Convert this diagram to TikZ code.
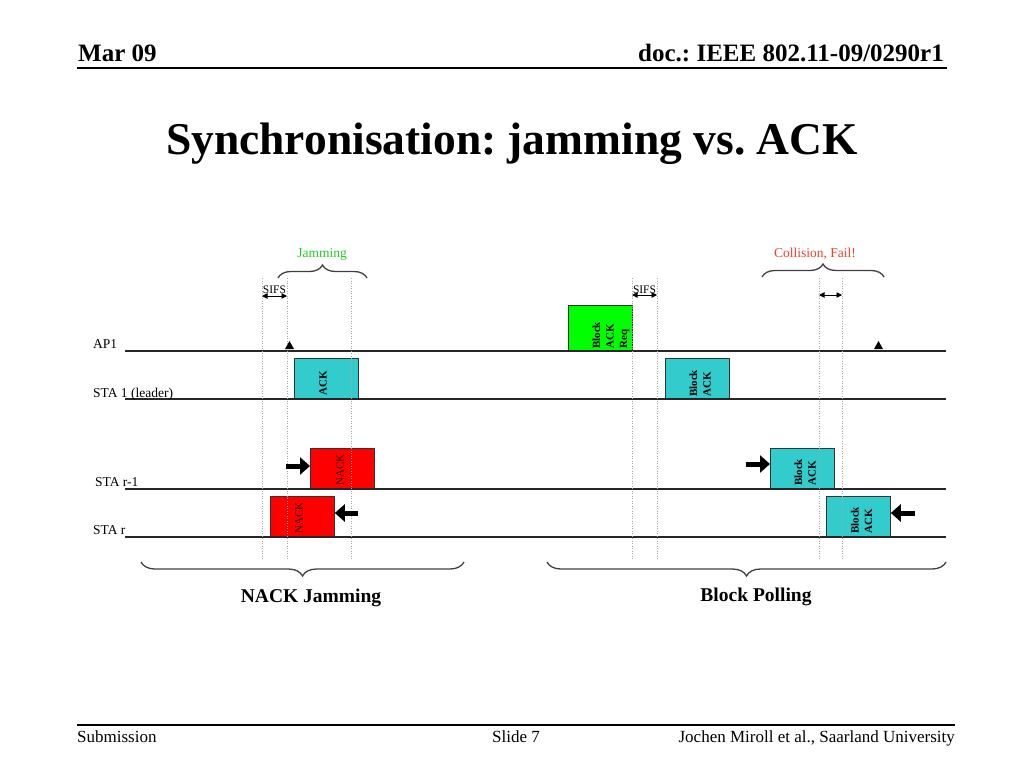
\documentclass[tikz,border=0pt]{standalone}
\usepackage{fontspec}
\setmainfont{Liberation Serif}
\usetikzlibrary{arrows.meta,decorations.pathreplacing}
\definecolor{boxgreen}{RGB}{0,255,0}
\definecolor{boxcyan}{RGB}{51,204,204}
\definecolor{boxred}{RGB}{255,0,0}
\definecolor{jamgreen}{RGB}{40,200,40}
\definecolor{failred}{RGB}{235,65,45}
\frenchspacing
\begin{document}
\begin{tikzpicture}[x=1pt,y=-1pt,
  timeline/.style={line width=1.5pt, black!85},
  vgrid/.style={gray!70, line width=0.7pt, dash pattern=on 1pt off 1.5pt},
  frame/.style={draw=black!80, line width=0.8pt, minimum width=64pt, minimum height=41pt, inner sep=0, anchor=north west},
  boxtext/.style={rotate=90, font=\bfseries\fontsize{11}{13.5}\selectfont, align=left, inner sep=0, anchor=west},
  nacktext/.style={rotate=90, font=\fontsize{11}{13.5}\selectfont, text=black!85!red, inner sep=0, anchor=west},
  bigarrow/.style={line width=5pt, -{Triangle[length=10pt,width=17pt]}},
  sifs/.style={line width=0.9pt, {Triangle[length=5.5pt,width=5.5pt]}-{Triangle[length=5.5pt,width=5.5pt]}},
  bracestyle/.style={decorate, decoration={brace, amplitude=#1}, line width=1.3pt, black!75},
  lbl/.style={font=\fontsize{13.5}{16}\selectfont, anchor=base west, inner sep=0},
  small/.style={font=\fontsize{11.5}{13}\selectfont, anchor=base, inner sep=0},
  note/.style={font=\fontsize{13.5}{16}\selectfont, anchor=base, inner sep=0},
  caption/.style={font=\bfseries\fontsize{19.5}{22}\selectfont, anchor=base, inner sep=0},
  foot/.style={font=\fontsize{17}{20}\selectfont, inner sep=0}
]
\useasboundingbox (0,0) rectangle (1024,768);

% header
\node[font=\bfseries\fontsize{25}{28}\selectfont, anchor=base west, inner sep=0] (date) at (78,62) {Mar 09};
\node[font=\bfseries\fontsize{25}{28}\selectfont, anchor=base east, inner sep=0] (doc) at (944,62) {doc.: IEEE 802.11-09/0290r1};
\coordinate (hl) at (77,68); \coordinate (hr) at (947,68);
\draw[line width=1.5pt] (hl) -- (hr);
\node[font=\bfseries\fontsize{45.5}{50}\selectfont, anchor=base, inner sep=0] (title) at (512,154) {Synchronisation: jamming vs. ACK};

% footer
\coordinate (fl) at (77,725); \coordinate (fr) at (955,725);
\draw[line width=1.2pt] (fl) -- (fr);
\node[foot, anchor=base west] (sub) at (77,742) {Submission};
\node[foot, anchor=base west] (slide) at (492,742) {Slide 7};
\node[foot, anchor=base east] (auth) at (955,742) {Jochen Miroll et al., Saarland University};

% boxes
\node[frame, fill=boxgreen, minimum height=46pt] (bar) at (568,305) {};
\node[frame, fill=boxcyan] (ack) at (294,358) {};
\node[frame, fill=boxred] (nackA) at (310,448) {};
\node[frame, fill=boxred] (nackB) at (270,496) {};
\node[frame, fill=boxcyan] (backS) at (665,358) {};
\node[frame, fill=boxcyan] (backA) at (770,448) {};
\node[frame, fill=boxcyan] (backB) at (826,496) {};

\node[boxtext] (tbar) at (611,349) {Block\\ACK\\Req};
\node[boxtext] (tack) at (323,396) {ACK};
\node[nacktext] (tnA) at (340,486) {NACK};
\node[nacktext] (tnB) at (299,534) {NACK};
\node[boxtext] (tbS) at (700,397) {Block\\ACK};
\node[boxtext] (tbA) at (805,486) {Block\\ACK};
\node[boxtext] (tbB) at (861.5,534) {Block\\ACK};

% timelines
\coordinate (ap-s) at (125,351); \coordinate (ap-e) at (946,351);
\coordinate (s1-s) at (125,399); \coordinate (s1-e) at (946,399);
\coordinate (sa-s) at (125,489); \coordinate (sa-e) at (946,489);
\coordinate (sb-s) at (125,537); \coordinate (sb-e) at (946,537);
\draw[timeline] (ap-s) -- (ap-e);
\draw[timeline] (s1-s) -- (s1-e);
\draw[timeline] (sa-s) -- (sa-e);
\draw[timeline] (sb-s) -- (sb-e);
\node[lbl] (lap) at (93,348) {AP1};
\node[lbl] (ls1) at (93,397) {STA 1 (leader)};
\node[lbl] (lsa) at (95,486) {STA r-1};
\node[lbl] (lsb) at (93,534) {STA r};

% vertical dotted guides
\foreach \n/\x in {v1/262,v2/287,v3/351,v4/632,v5/657,v6/819,v7/842}{
  \coordinate (\n t) at (\x,278);
  \coordinate (\n b) at (\x,560);
  \draw[vgrid] (\n t) -- (\n b);
}

% SIFS and collision arrows
\coordinate (sa1) at (262,296); \coordinate (sa2) at (287,296);
\draw[sifs] (sa1) -- (sa2);
\node[small] (sifsL) at (274.5,293) {SIFS};
\coordinate (sb1) at (632,295); \coordinate (sb2) at (657,295);
\draw[sifs] (sb1) -- (sb2);
\node[small] (sifsR) at (644.5,293) {SIFS};
\coordinate (c1) at (819,295); \coordinate (c2) at (842,295);
\draw[sifs] (c1) -- (c2);

% small markers on AP1
\fill (285,349) -- (294,349) -- (289.5,341) -- cycle;
\fill (874,349) -- (883,349) -- (878.5,341) -- cycle;

% big arrows
\coordinate (arA) at (286,466);
\draw[bigarrow] (arA) -- (nackA.west |- arA);
\coordinate (arB) at (358,513);
\draw[bigarrow] (arB) -- (nackB.east |- arB);
\coordinate (arC) at (746,464);
\draw[bigarrow] (arC) -- (backA.west |- arC);
\coordinate (arD) at (915,513);
\draw[bigarrow] (arD) -- (backB.east |- arD);

% top braces
\coordinate (jb1) at (278,278); \coordinate (jb2) at (367,278);
\draw[bracestyle=13pt] (jb1) -- (jb2);
\node[note, text=jamgreen] (jam) at (322,257) {Jamming};
\coordinate (cb1) at (762,277); \coordinate (cb2) at (884,277);
\draw[bracestyle=13pt] (cb1) -- (cb2);
\node[note, text=failred] (fail) at (815,257) {Collision, Fail!};

% bottom braces
\coordinate (bb1) at (141,562); \coordinate (bb2) at (464,562);
\draw[bracestyle=14pt] (bb2) -- (bb1);
\node[caption] (nj) at (311,602) {NACK Jamming};
\coordinate (bp1) at (547,562); \coordinate (bp2) at (946,562);
\draw[bracestyle=14pt] (bp2) -- (bp1);
\node[caption] (bpl) at (756,601) {Block Polling};
\end{tikzpicture}
\end{document}
